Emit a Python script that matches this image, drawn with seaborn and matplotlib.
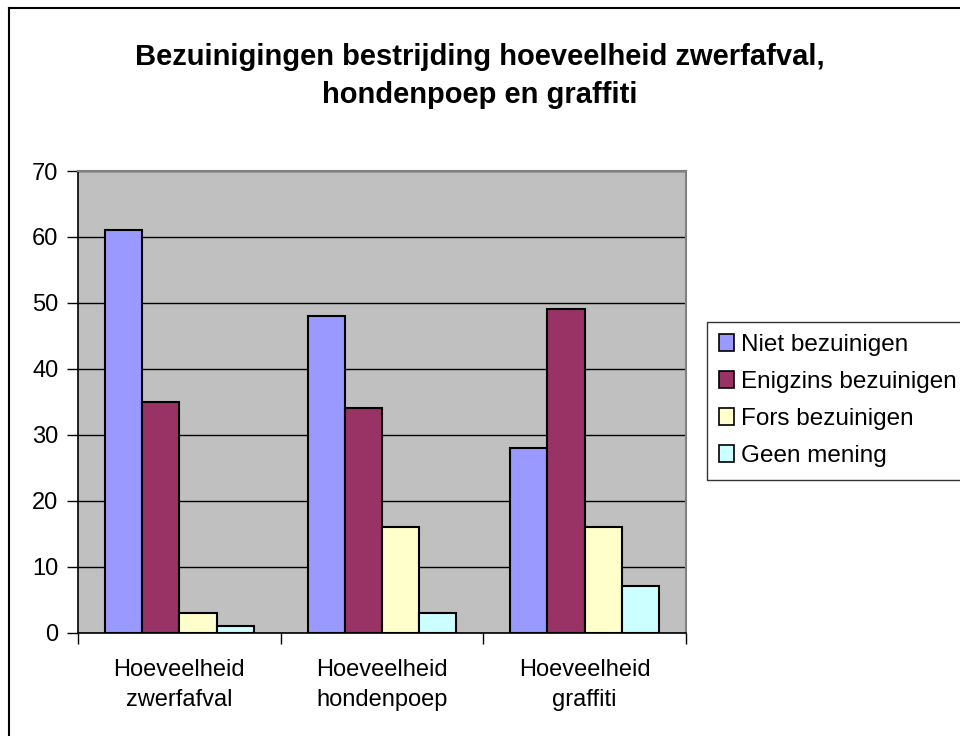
import pandas as pd
import matplotlib.pyplot as plt
import seaborn as sns
from matplotlib.lines import Line2D

# %% Data

categories = ['Hoeveelheid\nzwerfafval', 'Hoeveelheid\nhondenpoep', 'Hoeveelheid\ngraffiti']
series = ['Niet bezuinigen', 'Enigzins bezuinigen', 'Fors bezuinigen', 'Geen mening']
niet = [61, 48, 28]
enigzins = [35, 34, 49]
fors = [3, 16, 16]
geen = [1, 3, 7]
colors = ['#9999FF', '#993366', '#FFFFCC', '#CCFFFF']

df = pd.DataFrame({
    'categorie': categories * 4,
    'mening': [s for s in series for _ in categories],
    'waarde': niet + enigzins + fors + geen,
})

# %% Plot

plt.rcParams['font.family'] = ['Liberation Sans', 'DejaVu Sans']

fig = plt.figure(figsize=(9.6, 7.36), dpi=100)
ax = fig.add_axes([78/960, 1 - 632.5/736, (686-78)/960, (632.5-171)/736])
ax.set_facecolor('#C0C0C0')

sns.barplot(data=df, x='categorie', y='waarde', hue='mening', palette=colors,
            saturation=1, width=0.735, gap=0, edgecolor='black', linewidth=1.5,
            ax=ax, zorder=3)

ax.set_ylim(0, 70)
ax.set_xlim(-0.5, 2.5)
ax.set_yticks(range(0, 71, 10))
ax.yaxis.grid(True, color='black', linewidth=1)
ax.set_axisbelow(True)
ax.set_xlabel('')
ax.set_ylabel('')

ax.set_xticks([0, 1, 2])
ax.set_xticklabels(categories, fontsize=17, linespacing=1.45)
ax.set_xticks([-0.5, 0.5, 1.5, 2.5], minor=True)
ax.tick_params(axis='x', which='major', length=0, pad=19)
ax.tick_params(axis='x', which='minor', length=8, width=1, direction='out')
ax.tick_params(axis='y', length=8, width=1, pad=6, labelsize=17)

for side in ['top', 'right']:
    ax.spines[side].set_color('#808080')
    ax.spines[side].set_linewidth(1.5)
for side in ['left', 'bottom']:
    ax.spines[side].set_color('black')
    ax.spines[side].set_linewidth(1.2)

ax.get_legend().remove()
handles = [plt.Rectangle((0, 0), 1, 1, facecolor=c, edgecolor='black', linewidth=1.2) for c in colors]
leg = fig.legend(handles, series, loc='upper left', bbox_to_anchor=(707/960, 1 - 322/736),
                 fontsize=17.5, frameon=True, fancybox=False, borderaxespad=0,
                 handlelength=0.6, handleheight=0.7, handletextpad=0.3,
                 labelspacing=0.62, borderpad=0.5)
leg.get_frame().set_edgecolor('black')
leg.get_frame().set_linewidth(1)

fig.text(480/960, 1 - 57/736, 'Bezuinigingen bestrijding hoeveelheid zwerfafval,',
         ha='center', va='center', fontsize=21, fontweight='bold')
fig.text(480/960, 1 - 95/736, 'hondenpoep en graffiti',
         ha='center', va='center', fontsize=21, fontweight='bold')

# outer chart border (left and top edges visible)
fig.add_artist(Line2D([9/960, 9/960], [0, 1 - 8/736], color='black', linewidth=1.5))
fig.add_artist(Line2D([9/960, 1], [1 - 8/736, 1 - 8/736], color='black', linewidth=1.5))

fig.savefig('out.png')
